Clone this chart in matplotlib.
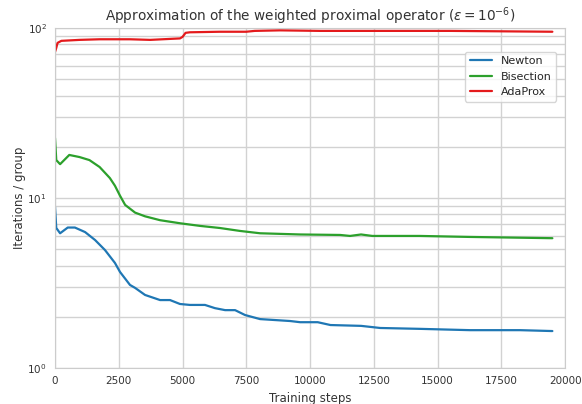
import numpy as np
import matplotlib
matplotlib.use("Agg")
import matplotlib.pyplot as plt
import seaborn as sns

# values (training step, iterations / group)
newton_steps = [0, 50, 200, 500, 780, 1180, 1570, 1960, 2350, 2550, 2940, 3140,
                3530, 4120, 4510, 4900, 5290, 5880, 6270, 6670, 7060, 7450, 8040,
                9220, 9610, 10300, 10800, 12000, 12750, 14300, 16270, 18230, 19500]
newton_iters = [8.85, 6.66, 6.2, 6.7, 6.7, 6.3, 5.66, 4.94, 4.15, 3.67, 3.08, 2.96,
                2.69, 2.51, 2.51, 2.38, 2.35, 2.35, 2.25, 2.19, 2.19, 2.05, 1.94,
                1.89, 1.86, 1.86, 1.79, 1.77, 1.72, 1.70, 1.67, 1.67, 1.65]

bisect_steps = [0, 50, 200, 560, 960, 1350, 1750, 2150, 2350, 2550, 2750, 3140,
                3530, 4120, 4900, 5690, 6460, 7250, 8040, 9610, 11180, 11570,
                12000, 12440, 14300, 16270, 19500]
bisect_iters = [22.5, 16.7, 15.8, 17.9, 17.4, 16.7, 15.2, 13.1, 11.8, 10.3, 9.1, 8.2,
                7.8, 7.4, 7.1, 6.85, 6.66, 6.4, 6.2, 6.1, 6.06, 5.98,
                6.1, 5.98, 5.98, 5.9, 5.8]

adaprox_steps = [0, 50, 100, 250, 960, 1750, 2940, 3730, 4900, 5000, 5120, 5290,
                 6460, 7500, 7830, 8820, 10400, 11570, 13140, 15500, 19500]
adaprox_iters = [72.2, 76.3, 81.6, 83.9, 85.0, 85.7, 85.7, 85.0, 86.7, 88.5, 93.5, 94.2,
                 94.9, 94.9, 96.0, 96.7, 96.0, 96.0, 96.0, 96.0, 94.9]

sns.set_style("whitegrid")
plt.rcParams['font.family'] = ['DejaVu Sans']

fig = plt.figure(figsize=(5.82, 4.04), dpi=100)
ax = fig.add_axes([0.0945, 0.089, 0.8765, 0.842])

ax.plot(newton_steps, newton_iters, color='#1f77b4', lw=1.6, label='Newton')
ax.plot(bisect_steps, bisect_iters, color='#2ca02c', lw=1.6, label='Bisection')
ax.plot(adaprox_steps, adaprox_iters, color='#e41a1c', lw=1.6, label='AdaProx')

ax.set_yscale('log')
ax.set_ylim(1, 100)
ax.set_xlim(0, 20000)
ax.grid(True, which='both', color='#d2d2d2', lw=1.0)
for s in ax.spines.values():
    s.set_color('#cccccc')

ax.tick_params(labelsize=7.5, colors='#333333', which='both', length=0, pad=6)
ax.set_xlabel('Training steps', fontsize=8.5, color='#333333', labelpad=4)
ax.set_ylabel('Iterations / group', fontsize=8.5, color='#333333', labelpad=1)
ax.set_title(r'Approximation of the weighted proximal operator ($\varepsilon = 10^{-6}$)',
             fontsize=9.8, color='#333333', pad=5)

leg = ax.legend(loc='upper right', bbox_to_anchor=(0.982, 0.93), borderaxespad=0,
                fontsize=8, frameon=True)
leg.get_frame().set_edgecolor('#cccccc')

fig.savefig('out.png', dpi=100)
